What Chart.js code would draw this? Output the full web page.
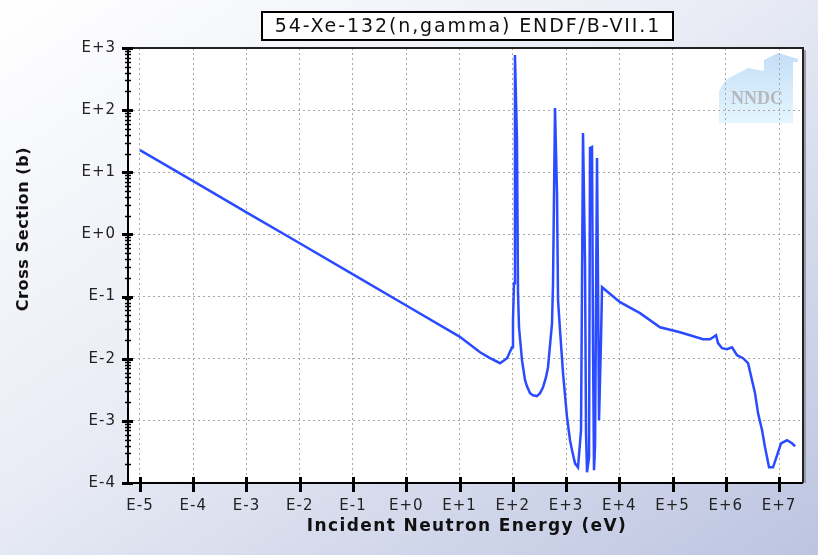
<!DOCTYPE html>
<html>
<head>
<meta charset="utf-8">
<script src="https://cdn.jsdelivr.net/npm/chart.js@4.4.0/dist/chart.umd.min.js"></script>
<style>
  html, body { margin: 0; padding: 0; }
  body {
    width: 818px; height: 555px; overflow: hidden;
    background: linear-gradient(to bottom right, #ffffff 0%, #e9ecf5 45%, #bcc4e0 100%);
  }
  #wrap { position: relative; width: 818px; height: 555px; }
</style>
</head>
<body>
<div id="wrap"><canvas id="xs" width="818" height="555"></canvas></div>
<script>
// ── Data (energy in eV, cross section in barns) ──
const energy = [
  1e-5, 1e-4, 1e-3, 1e-2, 0.1, 1, 10, 24.3, 37.5, 57.7, 78, 96.8, 101, 105.5, 110, 120, 125.5, 131,
  149, 170, 185, 211, 240, 285, 325, 370, 421, 459, 546, 570, 621, 677, 708, 771, 879, 1045, 1189, 1297, 1476, 1680,
  1914, 2085, 2274, 2375, 2479, 2704, 2825, 3078, 3215, 3357, 3508, 3820, 3990, 4169, 4540, 4745,
  10330, 24540, 58200, 138300, 213000, 374000, 506000, 656000, 715000, 851000,
  1.056e6, 1.31e6, 1.625e6, 2.11e6, 2.62e6, 3.11e6, 3.54e6, 4.04e6, 4.8e6, 5.46e6,
  6.49e6, 7.71e6, 9.17e6, 1.09e7, 1.41e7, 1.75e7, 2.0e7
];
const crossSection = [
  22.7, 7.2, 2.27, 0.72, 0.227, 0.0718, 0.0227, 0.0127, 0.0102, 0.00847, 0.0102, 0.0153, 0.0417, 0.164, 771, 33, 0.1135, 0.0321,
  0.00946, 0.00451, 0.0036, 0.00278, 0.00258, 0.00249, 0.00278, 0.00347, 0.00504, 0.0073, 0.0373, 0.164, 108, 4.62, 0.0875, 0.0288, 0.00585, 0.00114, 0.000487, 0.000337, 0.000207, 0.000179,
  0.000707, 42.8, 0.345, 0.000631, 0.000149, 0.00026, 24.5, 25.5, 0.0153, 0.00016, 0.000404, 16.9, 0.164, 0.00102, 0.0199, 0.1416,
  0.0813, 0.0541, 0.0321, 0.0267, 0.0239, 0.0206, 0.0206, 0.0239, 0.0178, 0.01476,
  0.01422, 0.0153, 0.01138, 0.0102, 0.00847, 0.00451, 0.00278, 0.00132, 0.000707, 0.000376,
  0.000179, 0.000179, 0.000279, 0.000436, 0.000487, 0.000436, 0.00039
];

// ── Axes ──
const xTickValues = [1e-5, 1e-4, 1e-3, 1e-2, 1e-1, 1, 1e1, 1e2, 1e3, 1e4, 1e5, 1e6, 1e7];
const xTickLabels = ['E-5', 'E-4', 'E-3', 'E-2', 'E-1', 'E+0', 'E+1', 'E+2', 'E+3', 'E+4', 'E+5', 'E+6', 'E+7'];
const yTickValues = [1e-4, 1e-3, 1e-2, 1e-1, 1, 1e1, 1e2, 1e3];
const yTickLabels = ['E-4', 'E-3', 'E-2', 'E-1', 'E+0', 'E+1', 'E+2', 'E+3'];
const xMin = Math.pow(10, -5.225), xMax = Math.pow(10, 7.45);
const yMin = 1e-4, yMax = 1e3;

const chartTitle = '54-Xe-132(n,gamma) ENDF/B-VII.1';
const xTitle = 'Incident Neutron Energy (eV)';
const yTitle = 'Cross Section (b)';

const FONT = '"DejaVu Sans", Verdana, sans-serif';

// ── Decorations: plot background, logo, frame, tick marks, titles ──
function drawLogo(ctx) {
  ctx.save();
  const g = ctx.createLinearGradient(0, 52, 0, 123);
  g.addColorStop(0, '#c4def8');
  g.addColorStop(1, '#e4f6fe');
  ctx.fillStyle = g;
  ctx.beginPath();
  ctx.moveTo(719, 123);
  ctx.lineTo(719, 92);
  ctx.quadraticCurveTo(723, 80, 733, 76);
  ctx.lineTo(748, 68);
  ctx.lineTo(764, 71);
  ctx.lineTo(764, 60);
  ctx.lineTo(778, 53);
  ctx.lineTo(798, 59);
  ctx.lineTo(798, 62);
  ctx.lineTo(793, 62);
  ctx.lineTo(793, 123);
  ctx.closePath();
  ctx.fill();
  ctx.fillStyle = 'rgba(175,175,175,0.85)';
  ctx.font = 'bold 18px "Liberation Serif", serif';
  ctx.textAlign = 'center';
  ctx.textBaseline = 'middle';
  ctx.fillText('NNDC', 757, 99);
  ctx.restore();
}

const decor = {
  id: 'decor',
  beforeDraw(chart) {
    const { ctx, chartArea: a } = chart;
    ctx.save();
    ctx.fillStyle = '#ffffff';
    ctx.fillRect(a.left, a.top, a.right - a.left, a.bottom - a.top);
    drawLogo(ctx);
    ctx.restore();
    ctx.letterSpacing = '1px';
  },
  afterDraw(chart) {
    const { ctx, chartArea: a, scales: { x, y } } = chart;
    ctx.save();
    ctx.letterSpacing = '0px';

    // frame top + right (with a soft shadow on the right)
    ctx.strokeStyle = '#9a9eaa';
    ctx.lineWidth = 2;
    ctx.beginPath();
    ctx.moveTo(a.right + 2, a.top + 2);
    ctx.lineTo(a.right + 2, a.bottom);
    ctx.stroke();
    ctx.strokeStyle = '#222';
    ctx.lineWidth = 2;
    ctx.beginPath();
    ctx.moveTo(a.left, a.top);
    ctx.lineTo(a.right, a.top);
    ctx.lineTo(a.right, a.bottom);
    ctx.stroke();

    // axis lines
    ctx.strokeStyle = '#000';
    ctx.lineWidth = 2;
    ctx.beginPath();
    ctx.moveTo(a.left, a.top);
    ctx.lineTo(a.left, a.bottom);
    ctx.lineTo(a.right, a.bottom);
    ctx.stroke();

    // y ticks: major decades + minor 2..9
    yTickValues.forEach((v, i) => {
      const py = Math.round(y.getPixelForValue(v)) + 0.5;
      ctx.lineWidth = 3;
      ctx.beginPath();
      ctx.moveTo(a.left - 6, py);
      ctx.lineTo(a.left + 5, py);
      ctx.stroke();
      if (i < yTickValues.length - 1) {
        for (let k = 2; k <= 9; k++) {
          const my = Math.round(y.getPixelForValue(v * k)) + 0.5;
          ctx.lineWidth = 1.5;
          ctx.beginPath();
          ctx.moveTo(a.left - 3, my);
          ctx.lineTo(a.left + 3, my);
          ctx.stroke();
        }
      }
    });
    // x ticks: decades
    xTickValues.forEach(v => {
      const px = Math.round(x.getPixelForValue(v)) + 0.5;
      ctx.lineWidth = 3;
      ctx.beginPath();
      ctx.moveTo(px, a.bottom - 6);
      ctx.lineTo(px, a.bottom + 9);
      ctx.stroke();
    });

    // title box
    ctx.fillStyle = '#ffffff';
    ctx.fillRect(262, 12, 411, 28);
    ctx.strokeStyle = '#000';
    ctx.lineWidth = 2;
    ctx.strokeRect(262, 12, 411, 28);
    ctx.fillStyle = '#111';
    ctx.font = '19px ' + FONT;
    ctx.letterSpacing = '1.9px';
    ctx.textAlign = 'center';
    ctx.textBaseline = 'middle';
    ctx.fillText(chartTitle, 468, 27);

    // axis titles
    ctx.font = 'bold 17px ' + FONT;
    ctx.letterSpacing = '1.4px';
    ctx.fillText(xTitle, 467, 527);
    ctx.save();
    ctx.translate(24, 229);
    ctx.rotate(-Math.PI / 2);
    ctx.font = 'bold 16px ' + FONT;
    ctx.letterSpacing = '0.6px';
    ctx.fillText(yTitle, 0, 0);
    ctx.restore();

    ctx.restore();
  }
};

const points = energy.map((e, i) => ({ x: e, y: crossSection[i] }));

const gridOpts = {
  color: '#a6a6a6',
  lineWidth: 1,
  drawTicks: false,
  borderDash: [2, 3]
};

new Chart(document.getElementById('xs'), {
  type: 'scatter',
  data: {
    datasets: [{
      data: points,
      showLine: true,
      borderColor: '#2a4bff',
      borderWidth: 2.5,
      pointRadius: 0,
      tension: 0
    }]
  },
  options: {
    responsive: false,
    animation: false,
    layout: { padding: { top: 48, right: 15, left: 0, bottom: 0 } },
    plugins: { legend: { display: false }, tooltip: { enabled: false } },
    scales: {
      x: {
        type: 'logarithmic',
        min: xMin,
        max: xMax,
        afterBuildTicks: s => { s.ticks = xTickValues.map(v => ({ value: v })); },
        afterFit: s => { s.height = 72; },
        grid: gridOpts,
        border: { display: false, dash: [2, 3] },
        ticks: {
          autoSkip: false,
          maxRotation: 0,
          padding: 14,
          color: '#222',
          font: { family: FONT, size: 15 },
          callback: (v, i) => xTickLabels[i]
        }
      },
      y: {
        type: 'logarithmic',
        min: yMin,
        max: yMax,
        afterBuildTicks: s => { s.ticks = yTickValues.map(v => ({ value: v })); },
        afterFit: s => { s.width = 128; },
        grid: gridOpts,
        border: { display: false, dash: [2, 3] },
        ticks: {
          autoSkip: false,
          padding: 12,
          color: '#222',
          font: { family: FONT, size: 15 },
          callback: (v, i) => yTickLabels[i]
        }
      }
    }
  },
  plugins: [decor]
});
</script>
</body>
</html>
